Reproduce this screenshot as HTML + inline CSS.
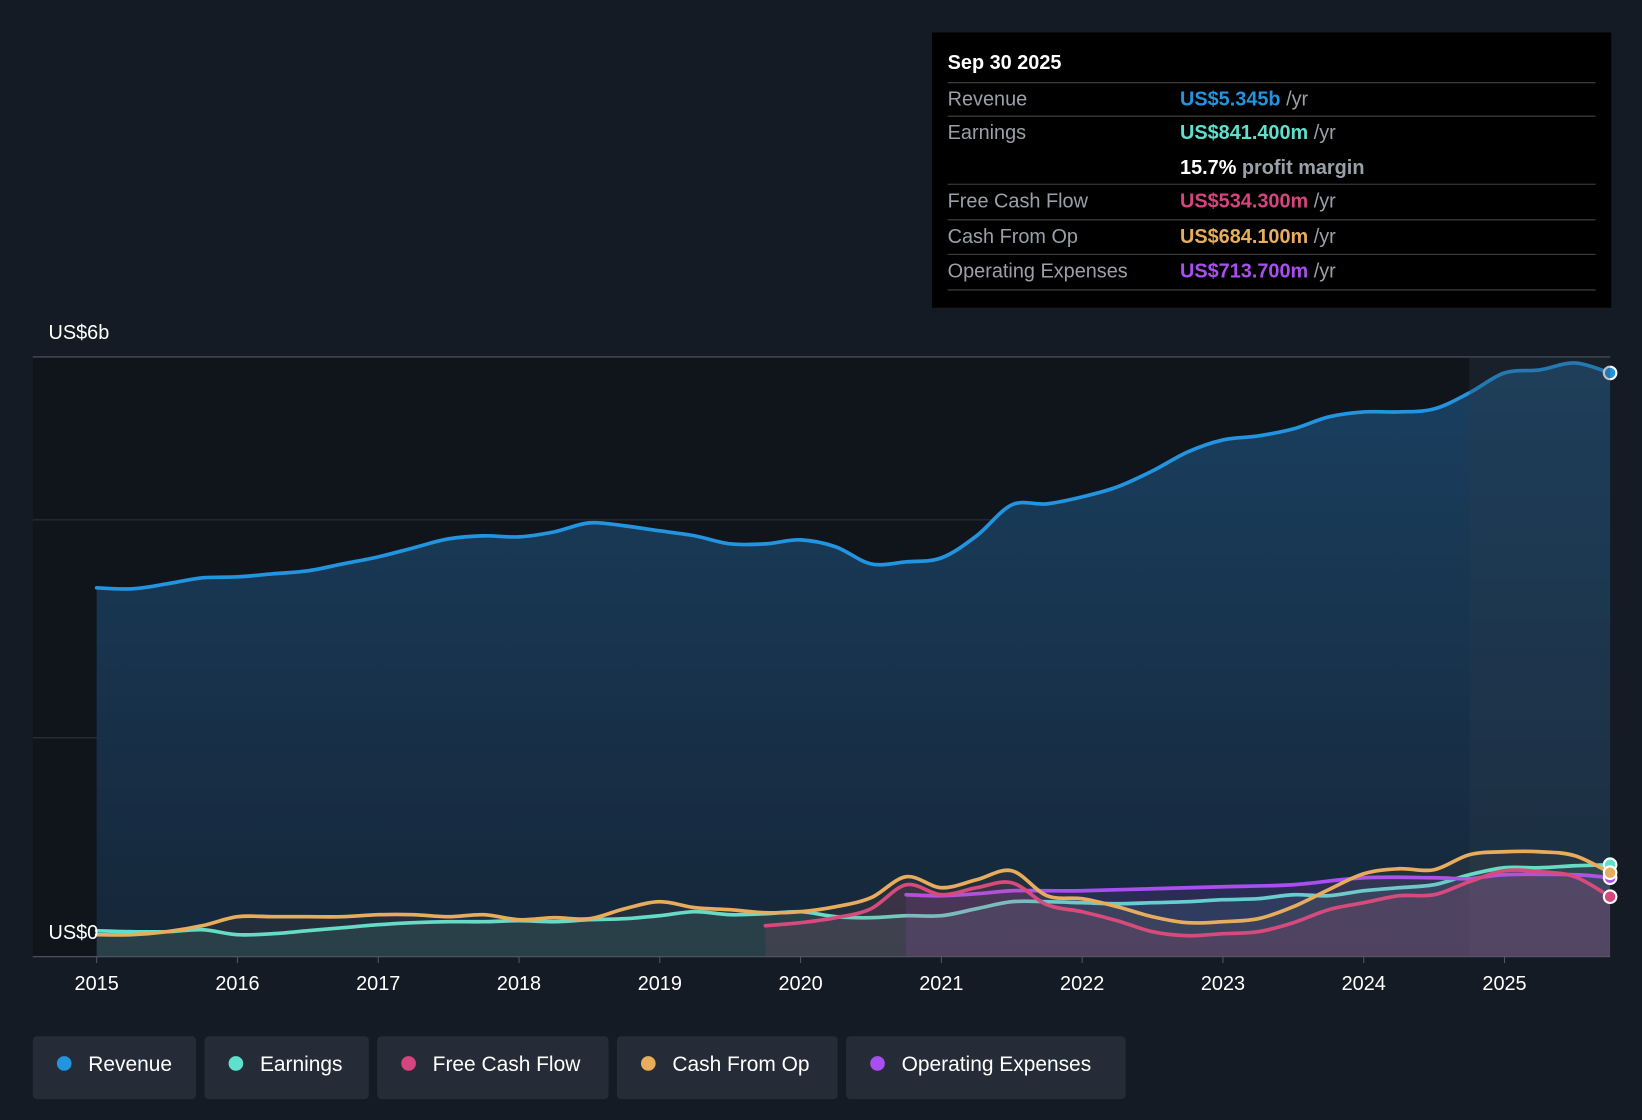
<!DOCTYPE html>
<html><head><meta charset="utf-8"><style>
html,body{margin:0;padding:0;background:#151b24;}
svg{display:block;font-family:"Liberation Sans",Roboto,sans-serif;}
</style></head><body>
<svg id="chart" width="1642" height="1120" viewBox="0 0 1568 1070">
<defs>
<linearGradient id="revFill" x1="0" y1="0" x2="0" y2="1"><stop offset="0" stop-color="#1a4264"/><stop offset="1" stop-color="#16273a"/></linearGradient>
</defs>
<rect width="1568" height="1070" fill="#151b24"/>
<rect x="31" y="341" width="1507" height="573" fill="#10151c"/>
<g id="grid"></g>
<g id="series"></g>
<g id="axis"></g>
<text x="46" y="324" fill="#fff" font-size="19">US$6b</text>
<text x="46" y="897" fill="#fff" font-size="19">US$0</text>
<g>
<rect x="890" y="31" width="649" height="263" fill="#000"/>
<text x="905" y="66" fill="#fff" font-size="19" font-weight="bold">Sep 30 2025</text>
<g stroke="#444" stroke-width="1">
<line x1="905" y1="79" x2="1524" y2="79"/><line x1="905" y1="111" x2="1524" y2="111"/>
<line x1="905" y1="176" x2="1524" y2="176"/><line x1="905" y1="210" x2="1524" y2="210"/>
<line x1="905" y1="243" x2="1524" y2="243"/><line x1="905" y1="277" x2="1524" y2="277"/></g>
<g font-size="19" fill="#9aa0a8">
<text x="905" y="101">Revenue</text><text x="905" y="133">Earnings</text>
<text x="905" y="198">Free Cash Flow</text><text x="905" y="232">Cash From Op</text><text x="905" y="265">Operating Expenses</text></g>
<g font-size="19" font-weight="bold">
<text x="1127" y="101" fill="#2394e0">US$5.345b <tspan fill="#9aa0a8" font-weight="normal">/yr</tspan></text>
<text x="1127" y="133" fill="#5ee0cc">US$841.400m <tspan fill="#9aa0a8" font-weight="normal">/yr</tspan></text>
<text x="1127" y="166" fill="#fff">15.7% <tspan fill="#9aa0a8">profit margin</tspan></text>
<text x="1127" y="198" fill="#d6457f">US$534.300m <tspan fill="#9aa0a8" font-weight="normal">/yr</tspan></text>
<text x="1127" y="232" fill="#e8ad5c">US$684.100m <tspan fill="#9aa0a8" font-weight="normal">/yr</tspan></text>
<text x="1127" y="265" fill="#a94ff0">US$713.700m <tspan fill="#9aa0a8" font-weight="normal">/yr</tspan></text></g>
</g>
<g id="legend" font-size="20" fill="#fff"></g>
</svg>
<script>
const years=[2015,2015.25,2015.5,2015.75,2016,2016.25,2016.5,2016.75,2017,2017.25,2017.5,2017.75,2018,2018.25,2018.5,2018.75,2019,2019.25,2019.5,2019.75,2020,2020.25,2020.5,2020.75,2021,2021.25,2021.5,2021.75,2022,2022.25,2022.5,2022.75,2023,2023.25,2023.5,2023.75,2024,2024.25,2024.5,2024.75,2025,2025.25,2025.5,2025.75];
const revenue=[3.69,3.68,3.73,3.79,3.80,3.83,3.86,3.93,4.00,4.09,4.18,4.21,4.20,4.25,4.34,4.31,4.26,4.21,4.13,4.13,4.17,4.10,3.93,3.95,3.99,4.21,4.52,4.53,4.60,4.70,4.86,5.05,5.17,5.21,5.28,5.40,5.45,5.45,5.48,5.64,5.84,5.87,5.94,5.84];
const earnings=[0.26,0.25,0.25,0.27,0.22,0.23,0.26,0.29,0.32,0.34,0.35,0.35,0.36,0.35,0.37,0.38,0.41,0.45,0.42,0.43,0.45,0.40,0.39,0.41,0.41,0.48,0.55,0.55,0.54,0.53,0.54,0.55,0.57,0.58,0.62,0.61,0.66,0.69,0.72,0.82,0.89,0.89,0.91,0.92];
const cashOp=[0.22,0.22,0.25,0.31,0.40,0.40,0.40,0.40,0.42,0.42,0.40,0.42,0.37,0.39,0.38,0.48,0.55,0.49,0.47,0.44,0.45,0.50,0.59,0.80,0.69,0.77,0.86,0.61,0.58,0.50,0.40,0.34,0.35,0.38,0.50,0.67,0.83,0.88,0.87,1.02,1.05,1.05,1.01,0.84];
const fcfYears=[2019.75,2020,2020.25,2020.5,2020.75,2021,2021.25,2021.5,2021.75,2022,2022.25,2022.5,2022.75,2023,2023.25,2023.5,2023.75,2024,2024.25,2024.5,2024.75,2025,2025.25,2025.5,2025.75];
const fcf=[0.31,0.34,0.39,0.48,0.72,0.62,0.69,0.74,0.52,0.45,0.36,0.25,0.21,0.23,0.25,0.34,0.47,0.54,0.61,0.62,0.75,0.86,0.85,0.80,0.60];
const opexYears=[2020.75,2021,2021.25,2021.5,2021.75,2022,2022.5,2023,2023.5,2024,2024.5,2024.75,2025,2025.5,2025.75];
const opex=[0.62,0.61,0.63,0.66,0.66,0.66,0.68,0.70,0.72,0.79,0.79,0.78,0.82,0.82,0.79];
const gridVals=[2.19,4.37,6.0];
const xTicks=[2015,2016,2017,2018,2019,2020,2021,2022,2023,2024,2025];
const legendNames=["Revenue","Earnings","Free Cash Flow","Cash From Op","Operating Expenses"];
const legendColors=["#2394e0","#5ee0cc","#d6457f","#e8ad5c","#a94ff0"];
const NS="http://www.w3.org/2000/svg";
const X=v=>92+(v-2015)*134.5;
const Y=v=>914-v*95.5;
function mk(tag,attrs,parent){const e=document.createElementNS(NS,tag);for(const k in attrs)e.setAttribute(k,attrs[k]);parent.appendChild(e);return e;}
function path(xs,ys){const P=xs.map((x,i)=>[X(x),Y(ys[i])]);let d="M"+P[0][0]+","+P[0][1];
for(let i=0;i<P.length-1;i++){const p0=P[Math.max(0,i-1)],p1=P[i],p2=P[i+1],p3=P[Math.min(P.length-1,i+2)];
const c1x=p1[0]+(p2[0]-p0[0])/6,c1y=p1[1]+(p2[1]-p0[1])/6,c2x=p2[0]-(p3[0]-p1[0])/6,c2y=p2[1]-(p3[1]-p1[1])/6;
d+=" C"+c1x+","+c1y+" "+c2x+","+c2y+" "+p2[0]+","+p2[1];}return d;}
const grid=document.getElementById('grid');
gridVals.forEach(v=>{const l=mk('line',{x1:31,x2:1538,y1:Y(v),y2:Y(v),stroke:v===6?'#505864':'#2c3440','stroke-width':1},grid);

});
const s=document.getElementById('series');
function series(xs,ys,color,name,fill,fillOp){const d=path(xs,ys);
const a=mk('path',{d:d+" L"+X(xs[xs.length-1])+",914 L"+X(xs[0])+",914 Z",fill:fill,opacity:fillOp},s);


const p=mk('path',{d:d,fill:'none',stroke:color,'stroke-width':3.5,'stroke-linecap':'round'},s);


const c=mk('circle',{cx:X(xs[xs.length-1]),cy:Y(ys[ys.length-1]),r:6,fill:color,stroke:'#fff','stroke-width':2},s);

}
series(years,revenue,'#2394e0','revenue','url(#revFill)',0.95);
const hl=mk('rect',{x:X(2024.75),y:341,width:1538-X(2024.75),height:573,fill:'#2a3a4c',opacity:0.3},s);


series(years,earnings,'#5ee0cc','earnings','#5ee0cc',0.1);
series(opexYears,opex,'#a94ff0','operating-expenses','#a94ff0',0.13);
series(fcfYears,fcf,'#d6457f','free-cash-flow','#d6457f',0.13);
series(years,cashOp,'#e8ad5c','cash-from-op','#e8ad5c',0.06);
const ax=document.getElementById('axis');
const base=mk('line',{x1:31,x2:1538,y1:914,y2:914,stroke:'#505864'},ax);


xTicks.forEach(t=>{const tk=mk('line',{x1:X(t),x2:X(t),y1:914,y2:920,stroke:'#505864'},ax);


const tx=mk('text',{x:X(t),y:946,fill:'#fff','font-size':19,'text-anchor':'middle'},ax);tx.textContent=String(t);

});
const lg=document.getElementById('legend');
const widths=[156,157,221,211,267];let lx=31;
legendNames.forEach((n,i)=>{const g=mk('g',{},lg);


mk('rect',{x:lx,y:990,width:widths[i],height:60,rx:4,fill:'#252c38'},g);
mk('circle',{cx:lx+30,cy:1016,r:7,fill:legendColors[i]},g);
const t=mk('text',{x:lx+53,y:1023,fill:'#fff','font-size':20},g);t.textContent=n;
lx+=widths[i]+8;});
</script>
</body></html>
